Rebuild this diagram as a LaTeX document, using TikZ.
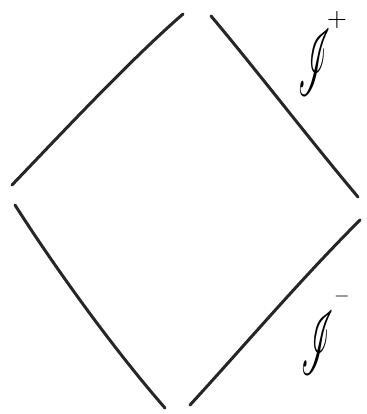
\documentclass[tikz,border=0pt]{standalone}
\usepackage{mathrsfs}
\usepackage{graphicx}
\begin{document}
\begin{tikzpicture}[x=1pt,y=-1pt,
  edge/.style={line width=3pt,draw=black!85,line cap=round},
  lab/.style={inner sep=0pt}]
\useasboundingbox (0,0) rectangle (366,414);
\coordinate (tl1) at (12,185);
\coordinate (tl2) at (183,14);
\coordinate (tr1) at (211,16);
\coordinate (tr2) at (358,197);
\coordinate (bl1) at (15,205);
\coordinate (bl2) at (165,408);
\coordinate (br1) at (190,405);
\coordinate (br2) at (360,220);
\draw[edge] (tl1) .. controls (60,135) and (130,60) .. (tl2);
\draw[edge] (tr1) .. controls (258,72) and (310,140) .. (tr2);
\draw[edge] (bl1) .. controls (50,260) and (110,345) .. (bl2);
\draw[edge] (br1) .. controls (245,345) and (300,280) .. (br2);
\node[lab] (ip) at (315,63) {\scalebox{3.2}[9.4]{$\mathscr{I}$}};
\node[lab] (ipp) at (337,20) {\scalebox{2.6}{$+$}};
\node[lab] (im) at (318,343) {\scalebox{3.2}[9]{$\mathscr{I}$}};
\node[lab] (imm) at (342,296) {\scalebox{2}{$-$}};
\end{tikzpicture}
\end{document}
